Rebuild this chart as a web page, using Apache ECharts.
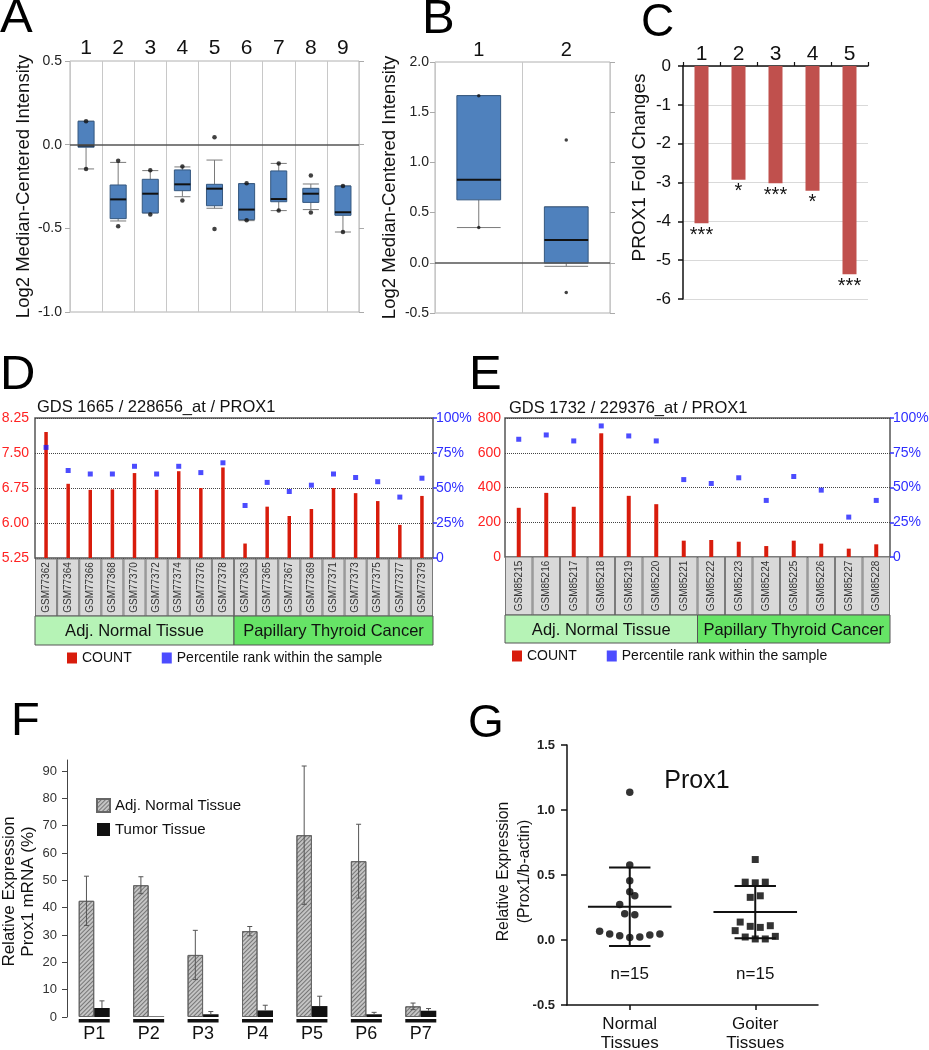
<!DOCTYPE html>
<html><head><meta charset="utf-8">
<script src="https://cdn.jsdelivr.net/npm/echarts@6/dist/echarts.min.js"></script>
<style>html,body{margin:0;padding:0;background:#fff}#c{width:929px;height:1050px}</style>
</head><body><div id="c"></div>
<script>
// ---------- Panel A: Oncomine box plots ----------
const aCategories = ['1','2','3','4','5','6','7','8','9'];
// [whisker low, Q1, median, Q3, whisker high]
const aBoxes = [
  [-0.145, -0.015, -0.005, 0.140, 0.140],
  [-0.456, -0.442, -0.327, -0.241, -0.106],
  [-0.408, -0.408, -0.293, -0.207, -0.155],
  [-0.311, -0.275, -0.237, -0.151, -0.133],
  [-0.380, -0.365, -0.263, -0.237, -0.092],
  [-0.454, -0.448, -0.388, -0.233, -0.233],
  [-0.394, -0.341, -0.325, -0.157, -0.112],
  [-0.388, -0.345, -0.293, -0.261, -0.235],
  [-0.522, -0.422, -0.404, -0.247, -0.247]
];
// [min point, max point]
const aExtremes = [
  [-0.145, 0.140], [-0.488, -0.096], [-0.418, -0.153], [-0.333, -0.131], [-0.504, 0.044],
  [-0.452, -0.231], [-0.394, -0.112], [-0.406, -0.185], [-0.522, -0.247]
];
// ---------- Panel B ----------
const bCategories = ['1','2'];
const bBoxes = [
  [0.351, 0.627, 0.826, 1.665, 1.665],
  [-0.035, -0.003, 0.226, 0.557, 0.557]
];
const bExtremes = [[0.351, 1.665], [-0.295, 1.224]];
// ---------- Panel C ----------
const cCategories = ['1','2','3','4','5'];
const cFoldChanges = [-4.05, -2.93, -3.02, -3.21, -5.36];
const cSignificance = ['***','*','***','*','***'];
// ---------- Panel D ----------
const dSamples = ['GSM77362','GSM77364','GSM77366','GSM77368','GSM77370','GSM77372','GSM77374','GSM77376','GSM77378',
                  'GSM77363','GSM77365','GSM77367','GSM77369','GSM77371','GSM77373','GSM77375','GSM77377','GSM77379'];
const dCount = [7.95, 6.84, 6.71, 6.72, 7.07, 6.71, 7.11, 6.75, 7.19, 5.56, 6.35, 6.15, 6.30, 6.75, 6.64, 6.47, 5.96, 6.58];
const dPercentile = [79, 62.5, 60, 60, 65.5, 60, 65.5, 61, 68, 37.5, 54, 47.5, 52, 60, 57.5, 54.5, 43.5, 57];
const dGroups = [['Adj. Normal Tissue', 0, 8], ['Papillary Thyroid Cancer', 9, 17]];
const dLeftTicks = [5.25, 8.25, 0.75];
// ---------- Panel E ----------
const eSamples = ['GSM85215','GSM85216','GSM85217','GSM85218','GSM85219','GSM85220','GSM85221',
                  'GSM85222','GSM85223','GSM85224','GSM85225','GSM85226','GSM85227','GSM85228'];
const eCount = [283, 369, 289, 712, 352, 304, 94, 98, 88, 63, 94, 77, 48, 73];
const ePercentile = [84.7, 87.8, 83.5, 94.3, 87.1, 83.5, 55.7, 52.9, 57.0, 40.7, 57.9, 48.1, 28.7, 40.7];
const eGroups = [['Adj. Normal Tissue', 0, 6], ['Papillary Thyroid Cancer', 7, 13]];
// ---------- Panel F ----------
const fPatients = ['P1','P2','P3','P4','P5','P6','P7'];
const fNormal = [42.5, 48.2, 22.7, 31.4, 66.5, 57.0, 3.9];
const fNormalErr = [9.0, 3.1, 9.0, 1.7, 25.3, 13.5, 1.2];
const fTumor = [3.3, 0.2, 1.0, 2.4, 4.0, 1.0, 2.3];
const fTumorErr = [2.6, 0, 1.0, 1.9, 3.6, 0.7, 0.8];
const fTicks = [0, 10, 20, 30, 40, 50, 60, 70, 80, 90];
// ---------- Panel G ----------
const gGroups = ['Normal\nTissues', 'Goiter\nTissues'];
const gNormal = [1.136, 0.576, 0.456, 0.371, 0.340, 0.274, 0.202, 0.195, 0.067, 0.046, 0.033, 0.020, 0.023, 0.038, 0.046];
const gNormalX = [1, 1, 1, 1, 1.04, 0.92, 0.96, 1.04, 0.76, 0.84, 0.92, 1, 1.08, 1.16, 1.24];
const gGoiter = [0.619, 0.445, 0.440, 0.445, 0.328, 0.340, 0.138, 0.105, 0.097, 0.110, 0.072, 0.023, 0.008, 0.008, 0.028];
const gGoiterX = [2, 1.92, 2, 2.08, 1.96, 2.04, 1.88, 1.96, 2.04, 2.12, 1.84, 1.92, 2, 2.08, 2.16];
const gMean = [0.256, 0.215];
const gSD = [0.302, 0.201];
const gN = ['n=15', 'n=15'];

const FF = '"Liberation Sans", Arial, sans-serif';
const font = (s, w) => (w ? w + ' ' : '') + s + 'px ' + FF;

function boxRender(params, api) {
  const i = api.value(0);
  const y = k => api.coord([i, api.value(k)])[1];
  const x = api.coord([i, api.value(3)])[0];
  const hw = api.size([1, 0])[0] * 0.25;
  const yLo = y(1), yQ1 = y(2), yMed = y(3), yQ3 = y(4), yHi = y(5);
  const ws = {stroke: '#7a7a7a', lineWidth: 1};
  return {type: 'group', children: [
    {type: 'line', shape: {x1: x, y1: yLo, x2: x, y2: yQ1}, style: ws},
    {type: 'line', shape: {x1: x, y1: yQ3, x2: x, y2: yHi}, style: ws},
    {type: 'line', shape: {x1: x - hw, y1: yLo, x2: x + hw, y2: yLo}, style: ws},
    {type: 'line', shape: {x1: x - hw, y1: yHi, x2: x + hw, y2: yHi}, style: ws},
    {type: 'rect', shape: {x: x - hw, y: yQ3, width: 2 * hw, height: yQ1 - yQ3}, style: {fill: '#4f81bd', stroke: '#34577f', lineWidth: 1}},
    {type: 'line', shape: {x1: x - hw, y1: yMed, x2: x + hw, y2: yMed}, style: {stroke: '#111', lineWidth: 2}}
  ]};
}
function cellRender(names) {
  return function (params, api) {
    const i = api.value(0);
    const cs = params.coordSys;
    const cx = api.coord([i, 0])[0];
    const w = api.size([1, 0])[0];
    return {type: 'group', children: [
      {type: 'rect', shape: {x: cx - w / 2 + 0.5, y: cs.y, width: w - 1, height: cs.height}, style: {fill: '#d9d9d9', stroke: '#7a7a7a', lineWidth: 1}},
      {type: 'text', x: cx, y: cs.y + cs.height / 2, rotation: Math.PI / 2,
       style: {text: names[i], font: font(10), fill: '#333', align: 'center', verticalAlign: 'middle'}}
    ]};
  };
}
function bandRender(groups, colors) {
  return function (params, api) {
    const k = params.dataIndex;
    const cs = params.coordSys;
    const w = api.size([1, 0])[0];
    const x0 = api.coord([api.value(0), 0])[0] - w / 2;
    const x1 = api.coord([api.value(1), 0])[0] + w / 2;
    return {type: 'group', children: [
      {type: 'rect', shape: {x: x0, y: cs.y, width: x1 - x0, height: cs.height}, style: {fill: colors[k], stroke: '#555', lineWidth: 1}},
      {type: 'text', x: (x0 + x1) / 2, y: cs.y + cs.height / 2 + 1,
       style: {text: groups[k][0], font: font(16.5), fill: '#111', align: 'center', verticalAlign: 'middle'}}
    ]};
  };
}
function errRender(offset, full) {
  return function (params, api) {
    const i = api.value(0), v = api.value(1), e = api.value(2);
    if (!e) return null;
    const x = api.coord([i, v])[0] + offset;
    const yTop = api.coord([i, v + e])[1];
    const yBot = api.coord([i, full ? v - e : v])[1];
    const s = {stroke: '#555', lineWidth: 1};
    const ch = [
      {type: 'line', shape: {x1: x, y1: yTop, x2: x, y2: yBot}, style: s},
      {type: 'line', shape: {x1: x - 2.5, y1: yTop, x2: x + 2.5, y2: yTop}, style: s}
    ];
    if (full) ch.push({type: 'line', shape: {x1: x - 2.5, y1: yBot, x2: x + 2.5, y2: yBot}, style: s});
    return {type: 'group', children: ch};
  };
}
function underlineRender(params, api) {
  const c = api.coord([api.value(0), 0]);
  return {type: 'rect', shape: {x: c[0] - 15.5, y: c[1] + 2, width: 31, height: 3.5}, style: {fill: '#111'}};
}
function meanSdRender(params, api) {
  const x = api.value(0), m = api.value(1), s = api.value(2);
  const ym = api.coord([x, m])[1];
  const cx = api.coord([x, m])[0];
  const l = api.coord([x - 0.333, m])[0], r = api.coord([x + 0.333, m])[0];
  const cl = api.coord([x - 0.165, m])[0], cr = api.coord([x + 0.165, m])[0];
  const yt = api.coord([x, m + s])[1], yb = api.coord([x, m - s])[1];
  const y0 = api.coord([x, 0])[1];
  const st = {stroke: '#111', lineWidth: 2};
  return {type: 'group', children: [
    {type: 'line', shape: {x1: l, y1: ym, x2: r, y2: ym}, style: st},
    {type: 'line', shape: {x1: cx, y1: yt, x2: cx, y2: yb}, style: st},
    {type: 'line', shape: {x1: cl, y1: yt, x2: cr, y2: yt}, style: st},
    {type: 'line', shape: {x1: cl, y1: yb, x2: cr, y2: yb}, style: st},
    {type: 'text', x: cx, y: y0 + 34, style: {text: gN[params.dataIndex], font: font(17), fill: '#111', align: 'center', verticalAlign: 'middle'}}
  ]};
}

const hiddenCat = (g, data) => ({type: 'category', gridIndex: g, data: data, show: false});
const hiddenVal = g => ({type: 'value', gridIndex: g, min: 0, max: 1, show: false});
const zeroLine = {silent: true, symbol: ['none', 'none'], label: {show: false}, data: [{yAxis: 0}],
                  lineStyle: {color: '#555', width: 1.5, type: 'solid'}};

const option = {
  animation: false,
  backgroundColor: '#fff',
  textStyle: {fontFamily: FF},
  grid: [
    {left: 70, top: 61, width: 289, height: 251, show: true, borderColor: '#b0b0b0', borderWidth: 1, outerBoundsMode: 'none'},
    {left: 435, top: 62, width: 175, height: 251, show: true, borderColor: '#b0b0b0', borderWidth: 1, outerBoundsMode: 'none'},
    {left: 683, top: 66, width: 185, height: 233, outerBoundsMode: 'none'},
    {left: 35, top: 418, width: 398, height: 140, show: true, borderColor: '#555', borderWidth: 1.5, outerBoundsMode: 'none'},
    {left: 35, top: 559, width: 398, height: 57, outerBoundsMode: 'none'},
    {left: 35, top: 616, width: 398, height: 29, outerBoundsMode: 'none'},
    {left: 505, top: 418, width: 385, height: 139, show: true, borderColor: '#555', borderWidth: 1.5, outerBoundsMode: 'none'},
    {left: 505, top: 557, width: 385, height: 58, outerBoundsMode: 'none'},
    {left: 505, top: 615, width: 385, height: 28, outerBoundsMode: 'none'},
    {left: 67, top: 760, width: 381, height: 257, outerBoundsMode: 'none'},
    {left: 567, top: 745, width: 251, height: 260, outerBoundsMode: 'none'}
  ],
  xAxis: [
    {type: 'category', gridIndex: 0, data: aCategories, position: 'top', axisLine: {show: false}, axisTick: {show: false},
     axisLabel: {fontSize: 21, color: '#111', margin: 2, interval: 0},
     splitLine: {show: true, interval: 0, lineStyle: {color: '#c8c8c8', width: 1}}},
    {type: 'category', gridIndex: 1, data: bCategories, position: 'top', axisLine: {show: false}, axisTick: {show: false},
     axisLabel: {fontSize: 20, color: '#111', margin: 2, interval: 0},
     splitLine: {show: true, interval: 0, lineStyle: {color: '#c8c8c8', width: 1}}},
    {type: 'category', gridIndex: 2, data: cCategories, position: 'top',
     axisLine: {show: true, onZero: false, lineStyle: {color: '#111', width: 1.5}},
     axisTick: {show: true, length: 4, lineStyle: {color: '#111', width: 1.2}},
     axisLabel: {fontSize: 21, color: '#111', margin: 1, interval: 0}},
    hiddenCat(3, dSamples),
    hiddenCat(4, dSamples),
    hiddenCat(5, dSamples),
    hiddenCat(6, eSamples),
    hiddenCat(7, eSamples),
    hiddenCat(8, eSamples),
    {type: 'category', gridIndex: 9, data: fPatients, axisLine: {show: false}, axisTick: {show: false},
     axisLabel: {fontSize: 18, color: '#111', margin: 8, interval: 0}},
    {type: 'value', gridIndex: 10, min: 0.5, max: 2.5, interval: 0.5,
     axisLine: {show: true, onZero: false, lineStyle: {color: '#111', width: 1.5}},
     axisTick: {show: true, customValues: [1, 2], length: 5, lineStyle: {color: '#111', width: 1.5}},
     axisLabel: {customValues: [1, 2], formatter: v => gGroups[Math.round(v) - 1], fontSize: 17, lineHeight: 19, color: '#111', margin: 10},
     splitLine: {show: false}}
  ],
  yAxis: [
    {type: 'value', gridIndex: 0, min: -1, max: 0.5, interval: 0.5, axisLine: {show: false},
     axisTick: {show: true, length: 5, lineStyle: {color: '#aaa'}},
     axisLabel: {formatter: v => v.toFixed(1), fontSize: 14, color: '#222', margin: 8},
     splitLine: {show: false},
     name: 'Log2 Median-Centered Intensity', nameLocation: 'middle', nameRotate: 90, nameGap: 37,
     nameTextStyle: {fontSize: 18.5, color: '#111'}},
    {type: 'value', gridIndex: 0, position: 'right', min: -1, max: 0.5, interval: 0.5, axisLine: {show: false},
     axisTick: {show: true, length: 5, lineStyle: {color: '#aaa'}}, axisLabel: {show: false}, splitLine: {show: false}},
    {type: 'value', gridIndex: 1, min: -0.5, max: 2, interval: 0.5, axisLine: {show: false},
     axisTick: {show: true, length: 5, lineStyle: {color: '#aaa'}},
     axisLabel: {formatter: v => v.toFixed(1), fontSize: 14, color: '#222', margin: 6},
     splitLine: {show: false},
     name: 'Log2 Median-Centered Intensity', nameLocation: 'middle', nameRotate: 90, nameGap: 36,
     nameTextStyle: {fontSize: 18.5, color: '#111'}},
    {type: 'value', gridIndex: 1, position: 'right', min: -0.5, max: 2, interval: 0.5, axisLine: {show: false},
     axisTick: {show: true, length: 5, lineStyle: {color: '#aaa'}}, axisLabel: {show: false}, splitLine: {show: false}},
    {type: 'value', gridIndex: 2, min: -6, max: 0, interval: 1,
     axisLine: {show: true, onZero: false, lineStyle: {color: '#111', width: 1.5}},
     axisTick: {show: true, length: 5, lineStyle: {color: '#111', width: 1.5}},
     axisLabel: {fontSize: 17, color: '#111', margin: 12},
     splitLine: {show: true, lineStyle: {color: '#d9d9d9', width: 1}}},
    {type: 'value', gridIndex: 3, min: dLeftTicks[0], max: dLeftTicks[1], interval: dLeftTicks[2], axisLine: {show: false}, axisTick: {show: false},
     axisLabel: {formatter: v => v.toFixed(2), fontSize: 14, color: '#ff2222', margin: 6},
     splitLine: {show: true, lineStyle: {color: '#444', type: 'dotted', width: 1}}},
    {type: 'value', gridIndex: 3, position: 'right', min: 0, max: 100, interval: 25, axisLine: {show: false},
     axisTick: {show: true, length: 4, lineStyle: {color: '#3333ff', width: 1.5}},
     axisLabel: {formatter: v => v ? v + '%' : '0', fontSize: 14, color: '#2f2fff', margin: 3}, splitLine: {show: false}},
    hiddenVal(4),
    hiddenVal(5),
    {type: 'value', gridIndex: 6, min: 0, max: 800, interval: 200, axisLine: {show: false}, axisTick: {show: false},
     axisLabel: {fontSize: 14, color: '#ff2222', margin: 4},
     splitLine: {show: true, lineStyle: {color: '#444', type: 'dotted', width: 1}}},
    {type: 'value', gridIndex: 6, position: 'right', min: 0, max: 100, interval: 25, axisLine: {show: false},
     axisTick: {show: true, length: 4, lineStyle: {color: '#3333ff', width: 1.5}},
     axisLabel: {formatter: v => v ? v + '%' : '0', fontSize: 14, color: '#2f2fff', margin: 3}, splitLine: {show: false}},
    hiddenVal(7),
    hiddenVal(8),
    {type: 'value', gridIndex: 9, min: 0, max: 94, interval: 10,
     axisLine: {show: true, onZero: false, lineStyle: {color: '#444', width: 1}},
     axisTick: {show: true, length: 5, customValues: fTicks, lineStyle: {color: '#444'}},
     axisLabel: {customValues: fTicks, fontSize: 13, color: '#333', margin: 10},
     splitLine: {show: false}},
    {type: 'value', gridIndex: 10, min: -0.5, max: 1.5, interval: 0.5,
     axisLine: {show: true, onZero: false, lineStyle: {color: '#111', width: 1.5}},
     axisTick: {show: true, length: 6, lineStyle: {color: '#111', width: 1.5}},
     axisLabel: {formatter: v => v.toFixed(1), fontSize: 13, fontWeight: 'bold', color: '#222', margin: 12},
     splitLine: {show: false}}
  ],
  legend: [
    {left: 62, top: 646, icon: 'rect', itemWidth: 10, itemHeight: 11, itemGap: 30, selectedMode: false,
     textStyle: {fontSize: 14, color: '#111'}, data: ['COUNT', 'Percentile rank within the sample']},
    {left: 507, top: 644, icon: 'rect', itemWidth: 10, itemHeight: 11, itemGap: 30, selectedMode: false,
     textStyle: {fontSize: 14, color: '#111'}, data: ['COUNT', 'Percentile rank within the sample']},
    {left: 91, top: 793, orient: 'vertical', icon: 'rect', itemWidth: 13, itemHeight: 13, itemGap: 9, selectedMode: false,
     textStyle: {fontSize: 15, color: '#111'}, data: ['Adj. Normal Tissue', 'Tumor Tissue']}
  ],
  graphic: {elements: [
    {type: 'text', x: 0, y: 18, style: {text: 'A', font: font(49), fill: '#000', verticalAlign: 'middle'}},
    {type: 'text', x: 422, y: 19, style: {text: 'B', font: font(49), fill: '#000', verticalAlign: 'middle'}},
    {type: 'text', x: 641, y: 23.5, style: {text: 'C', font: font(46), fill: '#000', verticalAlign: 'middle'}},
    {type: 'text', x: 0, y: 375.5, style: {text: 'D', font: font(49), fill: '#000', verticalAlign: 'middle'}},
    {type: 'text', x: 469, y: 375.5, style: {text: 'E', font: font(49), fill: '#000', verticalAlign: 'middle'}},
    {type: 'text', x: 11, y: 722, style: {text: 'F', font: font(47), fill: '#000', verticalAlign: 'middle'}},
    {type: 'text', x: 468, y: 724.5, style: {text: 'G', font: font(46), fill: '#000', verticalAlign: 'middle'}},
    {type: 'text', x: 640, y: 167.5, rotation: Math.PI / 2,
     style: {text: 'PROX1 Fold Changes', font: font(19), fill: '#111', align: 'center', verticalAlign: 'middle'}},
    {type: 'text', x: 19, y: 891.5, rotation: Math.PI / 2,
     style: {text: 'Relative Expression\nProx1 mRNA (%)', font: font(17), lineHeight: 19.5, fill: '#111', align: 'center', verticalAlign: 'middle'}},
    {type: 'text', x: 514, y: 871.5, rotation: Math.PI / 2,
     style: {text: 'Relative Expression\n(Prox1/b-actin)', font: font(15.8), lineHeight: 21.5, fill: '#111', align: 'center', verticalAlign: 'middle'}},
    {type: 'text', x: 37, y: 407.5, style: {text: 'GDS 1665 / 228656_at / PROX1', font: font(16.5), fill: '#111', verticalAlign: 'middle'}},
    {type: 'text', x: 509, y: 408, style: {text: 'GDS 1732 / 229376_at / PROX1', font: font(16.5), fill: '#111', verticalAlign: 'middle'}},
    {type: 'text', x: 697, y: 781, style: {text: 'Prox1', font: font(25), fill: '#111', align: 'center', verticalAlign: 'middle'}}
  ]},
  series: [
    // A
    {type: 'custom', xAxisIndex: 0, yAxisIndex: 0, renderItem: boxRender,
     encode: {x: 0, y: [1, 2, 3, 4, 5]}, data: aBoxes.map((b, i) => [i].concat(b))},
    {type: 'scatter', xAxisIndex: 0, yAxisIndex: 0, symbolSize: 4.5, itemStyle: {color: '#111'}, z: 4,
     data: aExtremes.flatMap((e, i) => [[i, e[0]], [i, e[1]]]), markLine: zeroLine},
    // B
    {type: 'custom', xAxisIndex: 1, yAxisIndex: 2, renderItem: boxRender,
     encode: {x: 0, y: [1, 2, 3, 4, 5]}, data: bBoxes.map((b, i) => [i].concat(b))},
    {type: 'scatter', xAxisIndex: 1, yAxisIndex: 2, symbolSize: 3.5, itemStyle: {color: '#111'}, z: 4,
     data: bExtremes.flatMap((e, i) => [[i, e[0]], [i, e[1]]]), markLine: zeroLine},
    // C
    {type: 'bar', xAxisIndex: 2, yAxisIndex: 4, data: cFoldChanges, barWidth: 14,
     itemStyle: {color: '#c0504d'},
     label: {show: true, position: 'bottom', distance: 2, formatter: p => cSignificance[p.dataIndex], fontSize: 20, color: '#111'}},
    // D
    {type: 'bar', name: 'COUNT', xAxisIndex: 3, yAxisIndex: 5, data: dCount, barWidth: 3.5, itemStyle: {color: '#d81c0c'}},
    {type: 'scatter', name: 'Percentile rank within the sample', xAxisIndex: 3, yAxisIndex: 6, data: dPercentile,
     symbol: 'rect', symbolSize: 5, itemStyle: {color: '#1f1fff'}},
    {type: 'custom', xAxisIndex: 4, yAxisIndex: 7, renderItem: cellRender(dSamples), encode: {x: 0, y: 1},
     data: dSamples.map((s, i) => [i, 0])},
    {type: 'custom', xAxisIndex: 5, yAxisIndex: 8, renderItem: bandRender(dGroups, ['#b6f3b6', '#66e466']), encode: {x: [0, 1], y: 2},
     data: dGroups.map(g => [g[1], g[2], 0])},
    // E
    {type: 'bar', name: 'COUNT', xAxisIndex: 6, yAxisIndex: 9, data: eCount, barWidth: 4, itemStyle: {color: '#d81c0c'}},
    {type: 'scatter', name: 'Percentile rank within the sample', xAxisIndex: 6, yAxisIndex: 10, data: ePercentile,
     symbol: 'rect', symbolSize: 5, itemStyle: {color: '#1f1fff'}},
    {type: 'custom', xAxisIndex: 7, yAxisIndex: 11, renderItem: cellRender(eSamples), encode: {x: 0, y: 1},
     data: eSamples.map((s, i) => [i, 0])},
    {type: 'custom', xAxisIndex: 8, yAxisIndex: 12, renderItem: bandRender(eGroups, ['#b6f3b6', '#66e466']), encode: {x: [0, 1], y: 2},
     data: eGroups.map(g => [g[1], g[2], 0])},
    // F
    {type: 'bar', name: 'Adj. Normal Tissue', xAxisIndex: 9, yAxisIndex: 13, data: fNormal, barWidth: 15.5, barGap: '0%',
     itemStyle: {color: '#c4c4c4', borderColor: '#666', borderWidth: 1,
       decal: {symbol: 'rect', symbolSize: 1, color: 'rgba(40,40,40,0.5)', dashArrayX: [1, 0], dashArrayY: [1, 2], rotation: -Math.PI / 4}}},
    {type: 'bar', name: 'Tumor Tissue', xAxisIndex: 9, yAxisIndex: 13, data: fTumor, barWidth: 15.5, barGap: '0%',
     itemStyle: {color: '#111'}},
    {type: 'custom', xAxisIndex: 9, yAxisIndex: 13, renderItem: errRender(-7.75, true), encode: {x: 0, y: 1}, z: 5,
     data: fNormal.map((v, i) => [i, v, fNormalErr[i]])},
    {type: 'custom', xAxisIndex: 9, yAxisIndex: 13, renderItem: errRender(7.75, false), encode: {x: 0, y: 1}, z: 5,
     data: fTumor.map((v, i) => [i, v, fTumorErr[i]])},
    {type: 'custom', xAxisIndex: 9, yAxisIndex: 13, renderItem: underlineRender, encode: {x: 0, y: 1},
     data: fPatients.map((p, i) => [i, 0])},
    // G
    {type: 'scatter', xAxisIndex: 10, yAxisIndex: 14, symbol: 'circle', symbolSize: 7.5, itemStyle: {color: '#000'},
     data: gNormal.map((v, i) => [gNormalX[i], v])},
    {type: 'scatter', xAxisIndex: 10, yAxisIndex: 14, symbol: 'rect', symbolSize: 7, itemStyle: {color: '#000'},
     data: gGoiter.map((v, i) => [gGoiterX[i], v])},
    {type: 'custom', xAxisIndex: 10, yAxisIndex: 14, renderItem: meanSdRender, encode: {x: 0, y: 1}, z: 5,
     data: gMean.map((m, i) => [i + 1, m, gSD[i]])}
  ]
};
const chart = echarts.init(document.getElementById('c'), null, {renderer: 'canvas', width: 929, height: 1050});
chart.setOption(option);
</script>
</body></html>
